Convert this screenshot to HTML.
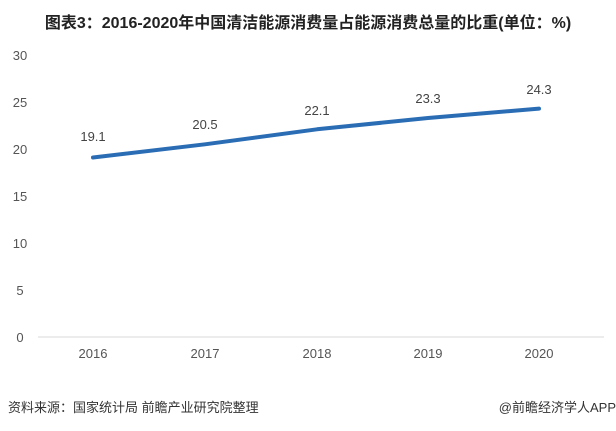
<!DOCTYPE html>
<html><head><meta charset="utf-8"><style>
body{margin:0;background:#fff;width:616px;height:426px;overflow:hidden;font-family:"Liberation Sans","Noto Sans CJK SC",sans-serif}
</style></head><body>
<svg width="616" height="426" xmlns="http://www.w3.org/2000/svg" font-family="Liberation Sans, Noto Sans CJK SC, sans-serif">
<text x="308" y="28" text-anchor="middle" font-size="16" font-weight="bold" fill="#222">图表3：2016-2020年中国清洁能源消费量占能源消费总量的比重(单位：%)</text>
<g font-size="13" fill="#555" text-anchor="middle">
<text x="20" y="60">30</text><text x="20" y="107">25</text><text x="20" y="154">20</text>
<text x="20" y="201">15</text><text x="20" y="248">10</text><text x="20" y="295">5</text><text x="20" y="342">0</text>
</g>
<line x1="38" y1="337" x2="604" y2="337" stroke="#d9d9d9" stroke-width="1"/>
<g font-size="13" fill="#555" text-anchor="middle">
<text x="93" y="358">2016</text><text x="205" y="358">2017</text><text x="317" y="358">2018</text><text x="428" y="358">2019</text><text x="539" y="358">2020</text>
</g>
<polyline points="93,157.5 205,144.3 317,129.3 428,118 539,108.6" fill="none" stroke="#2a6db5" stroke-width="4" stroke-linecap="round" stroke-linejoin="round"/>
<g font-size="13" fill="#444" text-anchor="middle">
<text x="93" y="141">19.1</text><text x="205" y="129">20.5</text><text x="317" y="115">22.1</text><text x="428" y="103">23.3</text><text x="539" y="94">24.3</text>
</g>
<text x="8" y="412" font-size="13" fill="#333">资料来源：国家统计局 前瞻产业研究院整理</text>
<text x="616" y="412" font-size="13" fill="#333" text-anchor="end">@前瞻经济学人APP</text>
</svg>
</body></html>
